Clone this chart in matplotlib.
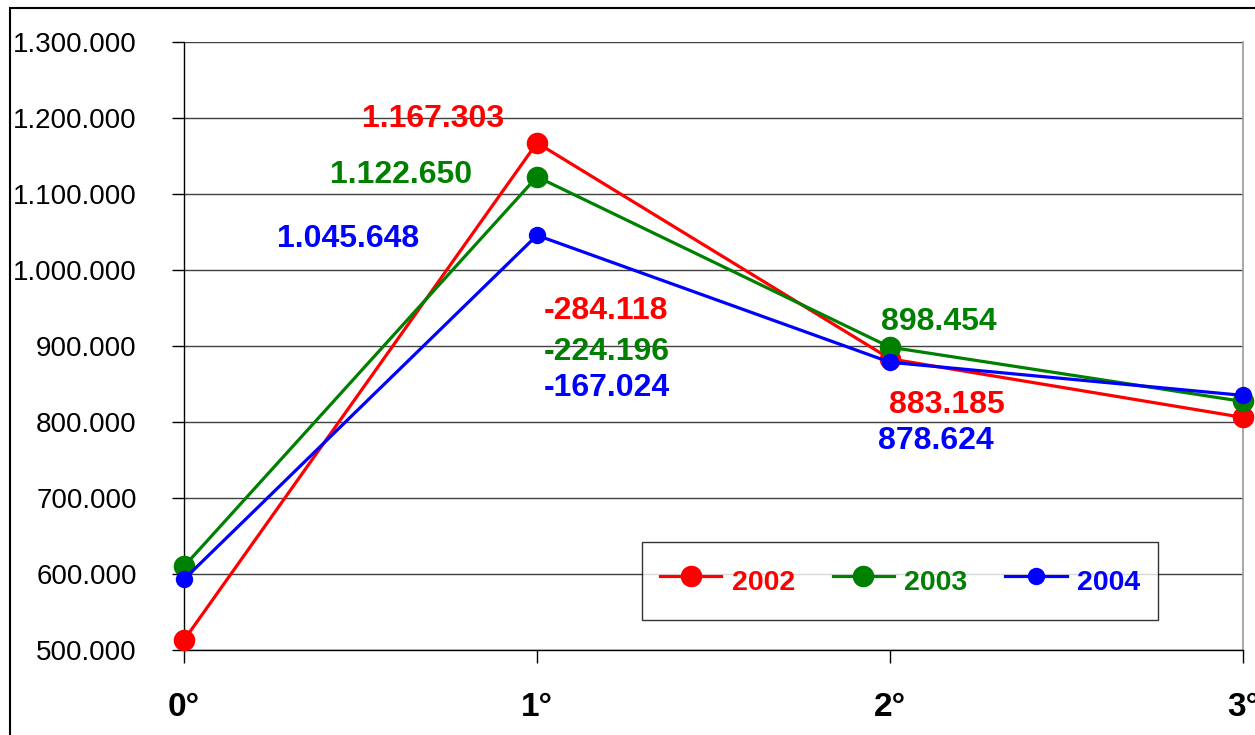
import matplotlib
matplotlib.use("Agg")
import matplotlib.pyplot as plt
from matplotlib.ticker import FuncFormatter, MultipleLocator
from matplotlib.patches import Rectangle

categories = ["0°", "1°", "2°", "3°"]
series_names = ["2002", "2003", "2004"]
v2002 = [513000, 1167303, 883185, 806000]
v2003 = [610000, 1122650, 898454, 827000]
v2004 = [593000, 1045648, 878624, 835000]
diff_labels = ["-284.118", "-224.196", "-167.024"]
colors = ["#ff0000", "#008000", "#0000ff"]

def fmt(v):
    return f"{v:,.0f}".replace(",", ".")

fig = plt.figure(figsize=(12.55, 7.35), dpi=100)
ax = fig.add_axes([184/1255, 1-650/735, (1243-184)/1255, (650-42)/735])

x = list(range(len(categories)))
msizes = [14.5, 14.5, 11.5]
for vals, c, name, ms in zip([v2002, v2003, v2004], colors, series_names, msizes):
    ax.plot(x, vals, color=c, lw=2.3, marker="o", ms=ms, label=name, zorder=3,
            clip_on=False)

ax.set_xlim(0, 3)
ax.set_ylim(500000, 1300000)
ax.yaxis.set_major_locator(MultipleLocator(100000))
ax.yaxis.set_major_formatter(FuncFormatter(lambda v, p: fmt(v)))
ax.set_xticks(x)
ax.set_xticklabels(categories)

ax.grid(axis="y", color="#404040", lw=1.0)
ax.set_axisbelow(True)
ax.spines["top"].set_visible(False)
ax.spines["right"].set_color("#999999")
ax.spines["right"].set_linewidth(1.2)
ax.spines["left"].set_linewidth(1.0)
ax.spines["bottom"].set_linewidth(1.0)

for lab in ax.get_yticklabels():
    lab.set_family(["Liberation Sans", "DejaVu Sans"])
    lab.set_fontsize(20)
ax.tick_params(axis="y", length=9, width=1, pad=25, direction="out")
ax.tick_params(axis="x", length=9, width=1, pad=21, direction="out")
for lab in ax.get_xticklabels():
    lab.set_family(["Liberation Sans", "DejaVu Sans"])
    lab.set_fontweight("bold")
    lab.set_fontsize(24)

tfont = dict(family=["Liberation Sans", "DejaVu Sans"], fontweight="bold", fontsize=23,
             ha="center", va="center")
# peak labels at 1°
peak_offsets = [(-75, 17), (-98, 1), (-136, -3)]
for vals, c, off in zip([v2002, v2003, v2004], colors, peak_offsets):
    ax.annotate(fmt(vals[1]), (1, vals[1]), xytext=off, textcoords="offset points",
                color=c, **tfont)
# difference labels
diff_offsets = [(50, -121), (50, -126), (50, -110)]
for vals, c, d, off in zip([v2002, v2003, v2004], colors, diff_labels, diff_offsets):
    ax.annotate(d, (1, vals[1]), xytext=off, textcoords="offset points",
                color=c, **tfont)
# 2° labels
two_offsets = [(41, -33), (35, 18), (33, -57)]
for vals, c, off in zip([v2002, v2003, v2004], colors, two_offsets):
    ax.annotate(fmt(vals[2]), (2, vals[2]), xytext=off, textcoords="offset points",
                color=c, **tfont)

leg = ax.legend(loc="center", bbox_to_anchor=((900-184)/1059, (650-581)/608),
                ncol=3, frameon=True, fancybox=False, shadow=False, borderpad=0.65,
                borderaxespad=0, handlelength=2.15, handleheight=1.8,
                handletextpad=0.36, columnspacing=1.33,
                prop=dict(family=["Liberation Sans", "DejaVu Sans"], weight="bold", size=20.5))
leg.get_frame().set_edgecolor("black")
leg.get_frame().set_linewidth(1.0)
for t, c in zip(leg.get_texts(), colors):
    t.set_color(c)

fig.patches.append(Rectangle((10/1255, -0.1), 1.2, 1 - 8/735 + 0.1, transform=fig.transFigure,
                             fill=False, edgecolor="black", lw=1.5))

fig.savefig("out.png", dpi=100)
